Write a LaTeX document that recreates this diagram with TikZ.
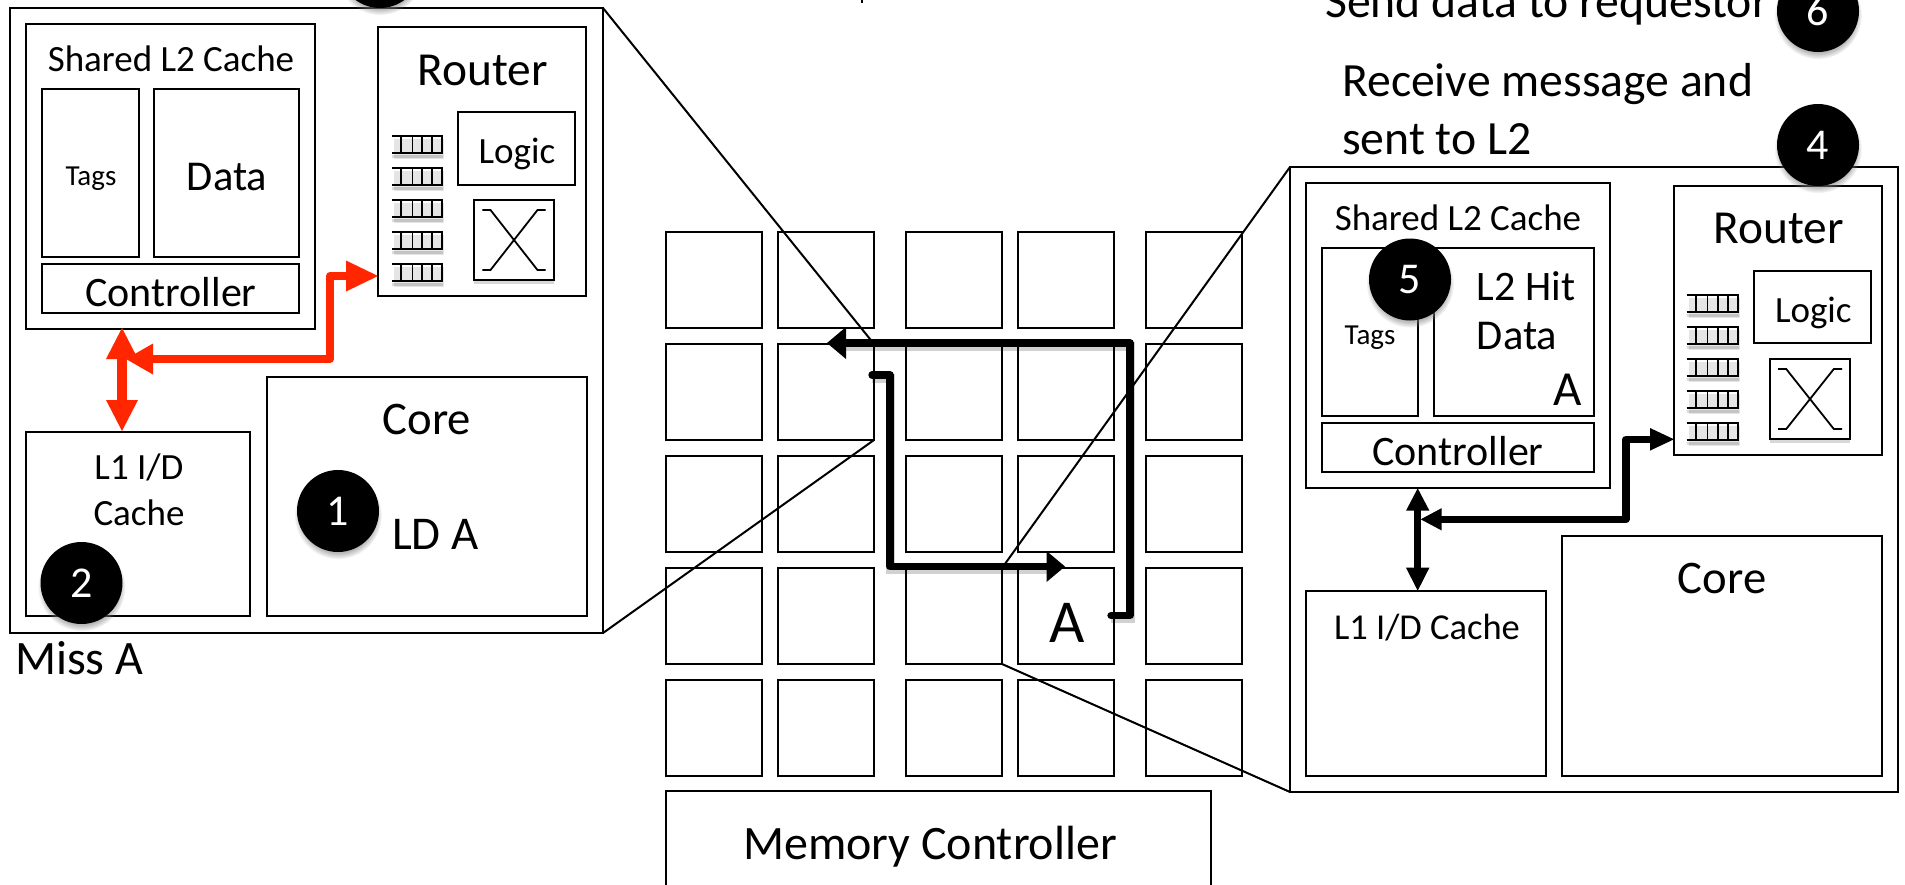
\documentclass[tikz,border=0pt]{standalone}
\usepackage{fontspec}
\setmainfont{Carlito}
\usetikzlibrary{shadows}
\newcommand{\fsz}[1]{\fontsize{#1}{#1}\selectfont}
\definecolor{arrowred}{RGB}{255,38,0}
\tikzset{
  x=1pt,y=-1pt,
  bx/.style={draw=black,line width=2pt,fill=white,anchor=north west,inner sep=0pt,outer sep=0pt},
  lbl/.style={inner sep=0pt,anchor=base,text=black,yshift=-1.5pt},
  lbll/.style={inner sep=0pt,anchor=base west,text=black,yshift=-1.5pt},
  num/.style={circle,fill=black,minimum size=82pt,inner sep=0pt,text=white,font=\fsz{44},
     circular drop shadow={shadow xshift=0pt,shadow yshift=-4pt,shadow scale=1.07,opacity=.55}},
  zoomline/.style={line width=2pt},
  redw/.style={draw=arrowred,line width=8pt,line join=round,line cap=round},
  blkw/.style={draw=black,line width=7.3pt,line join=round,line cap=round,
     preaction={draw=black,opacity=.18,line width=9pt,transform canvas={yshift=-3pt}}},
  redh/.style={fill=arrowred,draw=none},
  blkh/.style={fill=black,draw=none},
  softshadow/.style={drop shadow={shadow xshift=0pt,shadow yshift=-4pt,opacity=.3}},
}
\newcommand{\dg}[1]{\raisebox{-5pt}{#1}}
% queue: two rails and five rungs, with a blurred shadow
\newcommand{\queue}[3]{%
  \fill[black,opacity=.10] (#1+2,#2+3) rectangle (#3+1,#2+23);
  \draw[black,opacity=.14,line width=3pt] (#1,#2+20.5) -- (#3,#2+20.5);
  \draw[line width=2pt] (#1,#2) -- (#3,#2) (#1,#2+17) -- (#3,#2+17);
  \foreach \i in {0.175,0.4,0.595,0.79,0.98} \draw[line width=1.8pt] ({#1+(#3-#1)*\i},#2) -- ({#1+(#3-#1)*\i},#2+17);
}
\newcommand{\xbar}[4]{%
  \draw[line width=1.8pt] (#1+8.3,#2+10) -- (#1+16.5,#2+10) -- (#3-16.5,#4-10) -- (#3-8.3,#4-10);
  \draw[line width=1.8pt] (#3-8.3,#2+10) -- (#3-16.5,#2+10) -- (#1+16.5,#4-10) -- (#1+8.3,#4-10);
}
\begin{document}
\begin{tikzpicture}
\useasboundingbox (0,0) rectangle (1905,884);
\clip (0,0) rectangle (1905,884);
\fill[white] (0,0) rectangle (1905,884);

\begin{scope}[shift={(1,1)}]
% ---- grid ----
\foreach \cx/\cy [count=\n] in {
 665/231,777/231,905/231,1017/231,1145/231,
 665/343,777/343,905/343,1017/343,1145/343,
 665/455,777/455,905/455,1017/455,1145/455,
 665/567,777/567,905/567,1017/567,1145/567,
 665/679,777/679,905/679,1017/679,1145/679}
 \node[bx,minimum width=96pt,minimum height=96pt] (g\n) at (\cx,\cy) {};
\node[bx,minimum width=545pt,minimum height=110pt] (mc) at (665,790) {};
\node[lbl,font=\fsz{48}] (mct) at (929,857) {Memory Controller};
\node[lbl,font=\fsz{61}] (gA) at (1066,640) {A};
\fill (859.5,-2) rectangle (862,1.5);

% ---- left tile ----
\node[bx,minimum width=593pt,minimum height=625pt] (lb) at (9,7) {};
\node[bx,minimum width=289pt,minimum height=305pt] (ll2) at (25,23) {};
\node[bx,minimum width=97pt,minimum height=168pt] (ltag) at (41,88) {};
\node[bx,minimum width=145pt,minimum height=168pt] (ldat) at (153,88) {};
\node[bx,minimum width=257pt,minimum height=49pt] (lctl) at (41,263) {};
\node[bx,minimum width=208pt,minimum height=269pt] (lrt) at (377,26) {};
\node[bx,minimum width=117pt,minimum height=73pt] (llog) at (457,111) {};
\node[bx,minimum width=80pt,minimum height=80pt,softshadow] (lx) at (473,199) {};
\node[bx,minimum width=224pt,minimum height=184pt] (ll1) at (25,431) {};
\node[bx,minimum width=320pt,minimum height=239pt] (lcore) at (266,376) {};
\node[lbl,font=\fsz{37}] (t1) at (170,69) {Shared L2 Cache};
\node[lbl,font=\fsz{29}] (t2) at (90,183) {Tags};
\node[lbl,font=\fsz{42.5}] (t3) at (226,188) {Data};
\node[lbl,font=\fsz{42}] (t4) at (170,304) {Controller};
\node[lbl,font=\fsz{47.4}] (t5) at (482,83) {Router};
\node[lbl,font=\fsz{37}] (t6) at (516,161) {Logic};
\node[lbl,font=\fsz{46.7}] (t7) at (426,432) {Core};
\node[lbl,font=\fsz{37}] (t8) at (138,477) {L1 I/D};
\node[lbl,font=\fsz{37}] (t9) at (138,523) {Cache};
\node[lbll,font=\fsz{47}] (t10) at (391,547) {LD A};
\node[lbll,font=\fsz{48}] (t11) at (14,672) {Miss A};
\foreach \qy in {135,167,199,231,263} {\queue{391}{\qy}{442}}
\xbar{473}{199}{553}{279}
\end{scope}

% ---- right tile ----
\node[bx,minimum width=608pt,minimum height=625pt] (rb) at (1290,167) {};
\node[bx,minimum width=304pt,minimum height=304.5pt] (rl2) at (1306,183.2) {};
\node[bx,minimum width=96.3pt,minimum height=168pt] (rtag) at (1321.7,247.7) {};
\node[bx,minimum width=160.6pt,minimum height=168pt] (rdat) at (1433.7,247.7) {};
\node[bx,minimum width=272.6pt,minimum height=48.4pt] (rctl) at (1321.7,423.3) {};
\node[bx,minimum width=208.3pt,minimum height=269pt] (rrt) at (1674,186) {};
\node[bx,minimum width=117pt,minimum height=72pt] (rlog) at (1753.7,271) {};
\node[bx,minimum width=80.6pt,minimum height=80pt,softshadow] (rx) at (1769.7,359) {};
\node[bx,minimum width=240.3pt,minimum height=184.4pt] (rl1) at (1305.7,591.3) {};
\node[bx,minimum width=320.3pt,minimum height=240pt] (rcore) at (1562,535.7) {};
\node[lbl,font=\fsz{37}] (r1) at (1458,229.3) {Shared L2 Cache};
\node[lbl,font=\fsz{29}] (r2) at (1370,343.3) {Tags};
\node[lbll,font=\fsz{42}] (r3) at (1476.7,299.3) {L2 Hit};
\node[lbll,font=\fsz{42.5}] (r4) at (1476.7,348.3) {Data};
\node[lbl,font=\fsz{49}] (r5) at (1568,404) {A};
\node[lbl,font=\fsz{42}] (r6) at (1458,464) {Controller};
\node[lbl,font=\fsz{47.4}] (r7) at (1779,241.7) {Router};
\node[lbl,font=\fsz{37}] (r8) at (1813.3,321) {Logic};
\node[lbl,font=\fsz{36.5}] (r9) at (1427,638.3) {L1 I/D Cache};
\node[lbl,font=\fsz{46.7}] (r10) at (1722,592.3) {Core};
\foreach \qy in {295,327,359,391,423} {\queue{1686.7}{\qy}{1738.7}}
\xbar{1769.7}{359}{1850.3}{439}

% ---- outside text ----
\node[lbll,font=\fsz{47.7}] (s1) at (1325,16) {Send data to requestor};
\node[lbll,font=\fsz{47.7}] (s2) at (1342,95) {Receive message and};
\node[lbll,font=\fsz{47.7}] (s3) at (1342,153) {sent to L2};

% ---- zoom lines ----
\draw[zoomline] (lb.north east) -- (g7.north east);
\draw[zoomline] (lb.south east) -- (g7.south east);
\draw[zoomline] (rb.north west) -- (g18.north east);
\draw[zoomline] (rb.south west) -- (g18.south east);

% ---- red arrows ----
\coordinate (ra1) at (330,359);
\coordinate (ra2) at (330,276);
\draw[redw] (153,359) -- (ra1) -- (ra2) -- (346,276);
\fill[redh] (lrt.west |- ra2) -- (346,260.5) -- (346,291.5) -- cycle;
\fill[redh] (126,359) -- (153,343.5) -- (153,374.5) -- cycle;
\draw[draw=arrowred,line width=10pt] (122,358) -- (122,400);
\fill[redh] (122,328) -- (106,359) -- (138,359) -- cycle;
\fill[redh] (122,431) -- (106,400) -- (138,400) -- cycle;

% ---- black paths in grid ----
\draw[blkw] (1111,615.5) -- (1130,615.5) -- (1130,343) -- (846,343);
\fill[blkh] (827,343) -- (846,327) -- (846,359) -- cycle;
\draw[blkw] (872,375) -- (890,375) -- (890,566.5) -- (1046.5,566.5);
\fill[blkh] (1065,566.5) -- (1046.5,551) -- (1046.5,582) -- cycle;

% ---- black arrows right tile ----
\coordinate (ba1) at (1626,519.3);
\coordinate (ba2) at (1626,439.3);
\draw[draw=black,line width=7.3pt,line join=round,line cap=round] (1441.7,519.3) -- (ba1) -- (ba2) -- (1650,439.3);
\fill[blkh] (rrt.west |- ba2) -- (1650,428) -- (1650,450.6) -- cycle;
\fill[blkh] (1420.7,519.3) -- (1441.7,508.1) -- (1441.7,530.5) -- cycle;
\draw[draw=black,line width=7.3pt] (1417.7,505) -- (1417.7,572);
\fill[blkh] (1417.7,488.3) -- (1406,510.7) -- (1429.4,510.7) -- cycle;
\fill[blkh] (1417.7,590.7) -- (1406,567.7) -- (1429.4,567.7) -- cycle;

% ---- numbered circles ----
\node[num] (n1) at (338,511) {\dg{1}};
\node[num] (n2) at (81.5,583) {\dg{2}};
\node[num] (n3) at (380,-33) {\dg{3}};
\node[num] (n4) at (1818,145) {\dg{4}};
\node[num] (n5) at (1410,279.5) {\dg{5}};
\node[num] (n6) at (1818,11) {\dg{6}};
\end{tikzpicture}
\end{document}
